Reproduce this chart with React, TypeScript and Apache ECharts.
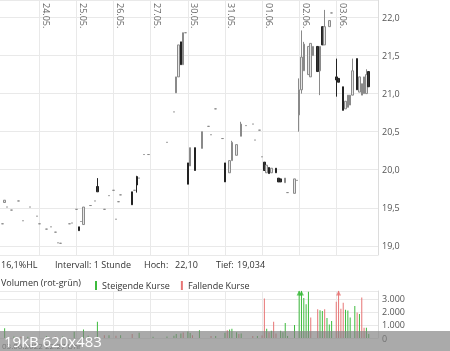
import React, { useEffect, useRef } from 'react';
import * as echarts from 'echarts';

const days = ['23.05.', '24.05.', '25.05.', '26.05.', '27.05.', '30.05.', '31.05.', '01.06.', '02.06.', '03.06.'];
const SLOT_COUNT = 164;
const FIRST_DAY_SLOTS = 17;
const SLOTS_PER_DAY = 16;

// [slot, open, close, low?, high?]  (two-element entries are flat ticks)
const candles: number[][] = [
  [1, 19.29], [2, 19.57, 19.6], [3, 19.51], [5, 19.47], [8, 19.59], [10, 19.33], [13, 19.51], [16, 19.39],
  [17, 19.29], [20, 19.22], [22, 19.25], [24, 19.18], [25, 19.04], [26, 19.034], [30, 19.29], [31, 19.3], [33, 19.48],
  [34, 19.25, 19.2], [35, 19.32], [36, 19.28, 19.51], [39, 19.53], [41, 19.59], [42, 19.78, 19.71, 19.71, 19.89],
  [45, 19.48], [47, 19.66], [49, 19.73],
  [50, 19.35], [51, 19.58], [52, 19.67], [57, 19.71, 19.54], [58, 19.73], [59, 19.91, 19.8, 19.7, 19.92], [60, 19.89],
  [62, 20.2], [64, 20.2],
  [72, 20.36], [75, 20.76], [76, 21.01, 21.22], [77, 21.22, 21.64], [78, 21.68, 21.38], [79, 21.38, 21.8], [80, 21.8],
  [81, 20.09, 19.81], [82, 20.05, 20.29], [84, 20.29, 19.99], [87, 20.28, 20.5], [90, 20.57], [91, 20.46], [93, 20.8], [96, 20.41],
  [97, 20.09, 19.84], [99, 19.96, 20.12], [100, 20.12, 20.36, 20.12, 20.38], [102, 20.19, 20.33], [104, 20.44, 20.6, 20.44, 20.63],
  [106, 20.58], [109, 20.6], [110, 20.39], [112, 20.52],
  [113, 20.17], [114, 20.1, 19.99], [115, 19.96, 20.06], [116, 20.03, 19.95], [117, 19.96, 20.02], [119, 20.02, 19.96],
  [120, 19.89, 19.84], [121, 19.88, 19.84], [123, 19.83, 19.89], [124, 19.7], [127, 19.69, 19.88], [128, 19.86],
  [129, 20.72, 21.05, 20.5, 21.2], [130, 21.05, 21.48, 21.0, 21.83], [131, 21.3, 21.65, 21.3, 21.68], [133, 21.25, 21.62],
  [134, 21.22, 21.66], [135, 21.5, 21.62], [137, 21.62, 21.29], [138, 21.3, 21.62, 20.98, 21.62], [139, 21.88, 21.64],
  [140, 21.64, 21.88, 21.64, 22.1], [142, 21.88, 21.96], [143, 22.06],
  [145, 21.22, 21.18, 20.96, 21.46], [146, 21.2, 21.15], [148, 21.09, 20.78], [149, 20.8, 20.9], [150, 20.82, 20.98],
  [151, 20.85, 20.98], [152, 20.98, 21.3, 20.98, 21.46], [154, 21.46, 21.05], [155, 21.02, 21.22], [156, 20.98, 21.13],
  [157, 21.0, 21.22], [158, 21.0, 21.25, 21.0, 21.32], [159, 21.29, 21.09],
];

// [slot, volume]
const volUp: number[][] = [
  [2, 740], [6, 120], [12, 100], [20, 150], [27, 120], [32, 480], [36, 660], [38, 180], [42, 1240], [47, 220], [52, 220],
  [60, 400], [66, 100], [72, 120], [75, 180], [76, 300], [78, 350], [81, 500], [82, 380], [86, 600], [93, 150],
  [97, 400], [99, 650], [100, 700], [102, 450], [104, 350], [111, 150], [115, 700], [117, 550], [121, 550], [122, 450],
  [123, 1150], [124, 150], [127, 1000], [129, 4200], [130, 4500], [131, 3070], [132, 2580], [133, 3550], [138, 2130],
  [139, 2070], [141, 1530], [142, 1040], [143, 1310], [149, 2170], [150, 2110], [151, 1570], [153, 2450], [155, 1840],
  [158, 780], [159, 300],
];
const volDown: number[][] = [
  [9, 100], [24, 120], [45, 220], [50, 180], [57, 300], [79, 420], [83, 220], [91, 150], [98, 600], [103, 300], [109, 150],
  [113, 200], [114, 3030], [116, 450], [118, 1240], [119, 350], [134, 1570], [137, 2200], [140, 2200], [145, 2780],
  [146, 4000], [147, 2240], [148, 2700], [154, 1960], [156, 3110], [157, 780],
];

const PRICE_MIN = 18.88;
const PRICE_MAX = 22.23;
const VOL_MAX = 3600;

const FONT = '"Open Sans", "Noto Sans", sans-serif';
const GREEN = '#3dbb3d';
const RED = '#e77575';

function dayOf(i: number) {
  if (i < FIRST_DAY_SLOTS) return 0;
  return Math.min(days.length - 1, 1 + Math.floor((i - FIRST_DAY_SLOTS) / SLOTS_PER_DAY));
}

export default function App() {
  const ref = useRef<HTMLDivElement>(null);
  useEffect(() => {
    if (!ref.current) return;
    const chart = echarts.init(ref.current, undefined, { renderer: 'svg' });

    const categories = Array.from({ length: SLOT_COUNT }, (_, i) => days[dayOf(i)] + '|' + i);
    const ohlc: any[] = Array.from({ length: SLOT_COUNT }, () => '-');
    let hoch = -Infinity;
    let tief = Infinity;
    candles.forEach((c) => {
      const [s, o] = c;
      const cl = c.length > 2 ? c[2] : o;
      const lo = c.length > 3 ? c[3] : Math.min(o, cl);
      const hi = c.length > 4 ? c[4] : Math.max(o, cl);
      ohlc[s] = [o, cl, lo, hi];
      hoch = Math.max(hoch, hi);
      tief = Math.min(tief, lo);
    });
    const up: any[] = Array.from({ length: SLOT_COUNT }, () => '-');
    const down: any[] = Array.from({ length: SLOT_COUNT }, () => '-');
    const upArrow: any[] = Array.from({ length: SLOT_COUNT }, () => '-');
    const downArrow: any[] = Array.from({ length: SLOT_COUNT }, () => '-');
    volUp.forEach(([s, v]) => { up[s] = v; if (v > VOL_MAX) upArrow[s] = VOL_MAX; });
    volDown.forEach(([s, v]) => { down[s] = v; if (v > VOL_MAX) downArrow[s] = VOL_MAX; });

    const hl = (((hoch - tief) / tief) * 100).toFixed(1).replace('.', ',') + '%HL';
    const dayLine = (idx: number) => idx >= FIRST_DAY_SLOTS && (idx - FIRST_DAY_SLOTS) % SLOTS_PER_DAY === 0 && idx < 150;
    const dayLabel = (idx: number) => idx >= FIRST_DAY_SLOTS + 3 && (idx - FIRST_DAY_SLOTS - 3) % SLOTS_PER_DAY === 0 && idx < 155;

    const txt = (text: string, x: number, y: number, extra: any = {}) => ({
      type: 'text', x, y, z: 50,
      style: { text, fill: '#333', fontSize: 9, fontFamily: FONT, verticalAlign: 'middle', ...extra },
    });

    const gridLine = { lineStyle: { color: '#e9e9e9', width: 1 } };

    chart.setOption({
      animation: false,
      textStyle: { fontFamily: FONT },
      grid: [
        { left: 0, right: 72, top: 0, height: 255 },
        { left: 0, right: 72, top: 291, height: 47 },
      ],
      legend: {
        left: 90, top: 276, itemWidth: 2, itemHeight: 9, itemGap: 11, icon: 'rect', selectedMode: false,
        textStyle: { fontSize: 9, color: '#333', fontFamily: FONT },
        data: ['Steigende Kurse', 'Fallende Kurse'],
      },
      xAxis: [
        {
          type: 'category', gridIndex: 0, data: categories, boundaryGap: false, position: 'top',
          axisLine: { show: false }, axisTick: { show: false },
          axisLabel: {
            inside: true, rotate: 90, margin: 3, fontSize: 9, color: '#666', fontFamily: FONT,
            interval: (idx: number) => dayLabel(idx),
            formatter: (v: string) => v.split('|')[0],
          },
          splitLine: { show: true, interval: (idx: number) => dayLine(idx), ...gridLine },
        },
        {
          type: 'category', gridIndex: 1, data: categories, boundaryGap: false,
          axisLine: { show: false }, axisTick: { show: false }, axisLabel: { show: false },
          splitLine: { show: true, interval: (idx: number) => dayLine(idx), ...gridLine },
        },
      ],
      yAxis: [
        {
          type: 'value', gridIndex: 0, position: 'right', min: PRICE_MIN, max: PRICE_MAX, splitNumber: 7,
          axisLine: { show: true, lineStyle: { color: '#dcdcdc' } }, axisTick: { show: false },
          axisLabel: {
            fontSize: 9, color: '#555', margin: 4, showMinLabel: false, showMaxLabel: false, fontFamily: FONT,
            formatter: (v: number) => v.toFixed(1).replace('.', ','),
          },
          splitLine: gridLine,
        },
        {
          type: 'value', gridIndex: 1, position: 'right', min: 0, max: VOL_MAX, interval: 1000,
          axisLine: { show: true, lineStyle: { color: '#dcdcdc' } }, axisTick: { show: false },
          axisLabel: {
            fontSize: 9, color: '#555', margin: 4, showMaxLabel: false, fontFamily: FONT,
            formatter: (v: number) => (v >= 1000 ? v / 1000 + '.000' : String(v)),
          },
          splitLine: gridLine,
        },
      ],
      series: [
        {
          type: 'candlestick', name: 'Kurs', xAxisIndex: 0, yAxisIndex: 0, barWidth: 2, data: ohlc,
          itemStyle: {
            color: '#e6e6e6', color0: '#333333', borderColor: '#8a8a8a', borderColor0: '#222222',
            borderColorDoji: '#8a8a8a', borderWidth: 1,
          },
        },
        {
          type: 'bar', name: 'Steigende Kurse', xAxisIndex: 1, yAxisIndex: 1, barWidth: 1, barGap: '-100%',
          clip: true, data: up, itemStyle: { color: GREEN },
        },
        {
          type: 'bar', name: 'Fallende Kurse', xAxisIndex: 1, yAxisIndex: 1, barWidth: 1, barGap: '-100%',
          clip: true, data: down, itemStyle: { color: RED },
        },
        {
          type: 'scatter', xAxisIndex: 1, yAxisIndex: 1, symbol: 'triangle', symbolSize: [5, 5],
          symbolOffset: [0, 2], data: upArrow, itemStyle: { color: GREEN }, z: 5,
        },
        {
          type: 'scatter', xAxisIndex: 1, yAxisIndex: 1, symbol: 'triangle', symbolSize: [5, 5],
          symbolOffset: [0, 2], data: downArrow, itemStyle: { color: RED }, z: 5,
        },
      ],
      graphic: [
        txt(hl, 1, 264),
        txt('Intervall: 1 Stunde', 55, 264),
        txt('Hoch:', 144, 264),
        txt(hoch.toFixed(2).replace('.', ','), 175, 264),
        txt('Tief:', 216, 264),
        txt(tief.toFixed(3).replace('.', ','), 237, 264),
        txt('Volumen (rot-grün)', 1, 282),
        txt('03.06.2022 22:27 Uhr', 2, 345, { fill: '#666', fontSize: 8 }),
        {
          type: 'rect', z: 60, shape: { x: 0, y: 331, width: 450, height: 20 },
          style: { fill: 'rgba(128,128,128,0.67)' },
        },
        {
          type: 'text', z: 61, x: 4, y: 341,
          style: { text: '19kB 620x483', fill: '#ffffff', fontSize: 15, fontFamily: FONT, verticalAlign: 'middle' },
        },
      ],
    });
    return () => chart.dispose();
  }, []);
  return <div ref={ref} style={{ position: 'fixed', left: 0, top: 0, width: 450, height: 351 }} />;
}
